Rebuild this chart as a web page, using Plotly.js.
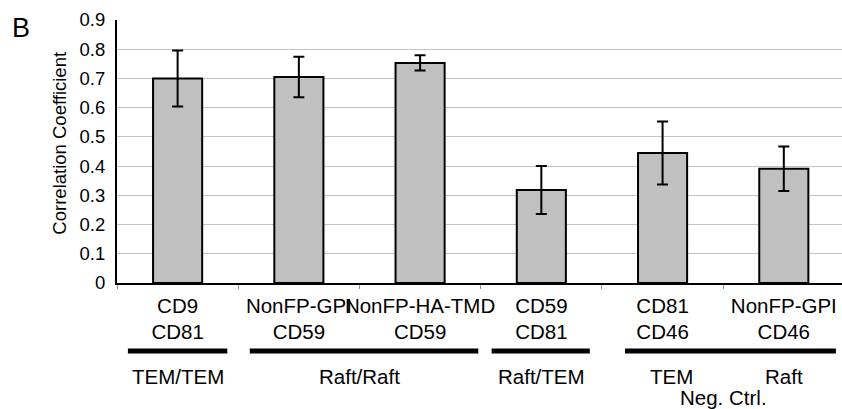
<!DOCTYPE html>
<html>
<head>
<meta charset="utf-8">
<script src="https://cdn.plot.ly/plotly-3.0.1.min.js"></script>
<style>
  html, body { margin: 0; padding: 0; background: #fff; }
  #chart { width: 842px; height: 409px; }
</style>
</head>
<body>
<div id="chart"></div>
<script>
// Probe pairs (two-line category labels) and their mean correlation coefficients
const pairLabels = [
  "CD9<br>CD81",
  "NonFP-GPI<br>CD59",
  "NonFP-HA-TMD<br>CD59",
  "CD59<br>CD81",
  "CD81<br>CD46",
  "NonFP-GPI<br>CD46"
];
const meanCorr = [0.70, 0.705, 0.753, 0.318, 0.445, 0.391];
const errCorr  = [0.096, 0.069, 0.026, 0.082, 0.108, 0.076];

// Group labels under the axis, with first/last category index of each group
const groupLabels = ["TEM/TEM", "Raft/Raft", "Raft/TEM", "TEM", "Raft"];
const groupFirst  = [0, 1, 3, 4, 5];
const groupLast   = [0, 2, 3, 4, 5];
const negCtrlLabel = "Neg. Ctrl.";
const yTitle = "Correlation Coefficient";

const FONT = "'Liberation Sans', Arial, Helvetica, sans-serif";

const trace = {
  type: "bar",
  x: pairLabels,
  y: meanCorr,
  width: 0.405,
  marker: { color: "#c0c0c0", line: { color: "#000", width: 2 } },
  error_y: { type: "data", array: errCorr, visible: true, color: "#000", thickness: 2, width: 5.5 },
  hoverinfo: "none"
};

// Bracket bars under the category labels (offsets in category units)
const bracketGroups = [
  { from: groupFirst[0], to: groupLast[0], a: -0.41, b: 0.41 },
  { from: groupFirst[1], to: groupLast[1], a: -0.405, b: 0.48 },
  { from: groupFirst[2], to: groupLast[2], a: -0.41, b: 0.40 },
  { from: groupFirst[3], to: groupLast[4], a: -0.31, b: 0.43 }
];
const lineY = -0.2586;
const shapes = bracketGroups.map(g => ({
  type: "line", xref: "x", yref: "paper",
  x0: g.from + g.a, x1: g.to + g.b, y0: lineY, y1: lineY,
  line: { color: "#000", width: 5 }
}));

const labelShift = { "TEM": 0.07 };
const annotations = groupLabels.map((t, i) => ({
  text: t, xref: "x", yref: "paper",
  x: (groupFirst[i] + groupLast[i]) / 2 + (labelShift[t] || 0),
  y: -0.355, xanchor: "center", yanchor: "middle", showarrow: false,
  font: { family: FONT, size: 20.5, color: "#000" }
}));
annotations.push({
  text: negCtrlLabel, xref: "x", yref: "paper",
  x: (groupFirst[3] + groupLast[4]) / 2, y: -0.435, xanchor: "center", yanchor: "middle", showarrow: false,
  font: { family: FONT, size: 20.5, color: "#000" }
});
annotations.push({
  text: yTitle, xref: "paper", yref: "paper",
  x: -0.0786, y: 0.53, xanchor: "center", yanchor: "middle", textangle: -90, showarrow: false,
  font: { family: FONT, size: 18.5, color: "#000" }
});
annotations.push({
  text: "B", xref: "paper", yref: "paper",
  x: -0.1324, y: 0.971, xanchor: "center", yanchor: "middle", showarrow: false,
  font: { family: FONT, size: 27, color: "#000" }
});

const layout = {
  width: 842, height: 409,
  margin: { l: 117, r: 0, t: 20, b: 126, pad: 0 },
  paper_bgcolor: "#fff", plot_bgcolor: "#fff",
  showlegend: false,
  font: { family: FONT, color: "#000" },
  xaxis: {
    type: "category",
    range: [-0.5, 5.48],
    tickangle: 0,
    showgrid: false, zeroline: false,
    showline: true, linecolor: "#000", linewidth: 2,
    ticks: "outside", tickson: "boundaries", ticklen: 4, tickcolor: "#999", tickwidth: 1,
    ticklabelstandoff: 3,
    tickfont: { family: FONT, size: 20.5, color: "#000" },
    fixedrange: true
  },
  yaxis: {
    range: [0, 0.9], dtick: 0.1,
    showgrid: true, gridcolor: "#c4c4c4", gridwidth: 1,
    zeroline: false,
    showline: true, linecolor: "#000", linewidth: 2,
    ticks: "", ticklabelstandoff: 6,
    tickfont: { family: FONT, size: 18.5, color: "#000" },
    fixedrange: true
  },
  shapes: shapes,
  annotations: annotations
};

Plotly.newPlot("chart", [trace], layout, { displayModeBar: false, staticPlot: true });
</script>
</body>
</html>
